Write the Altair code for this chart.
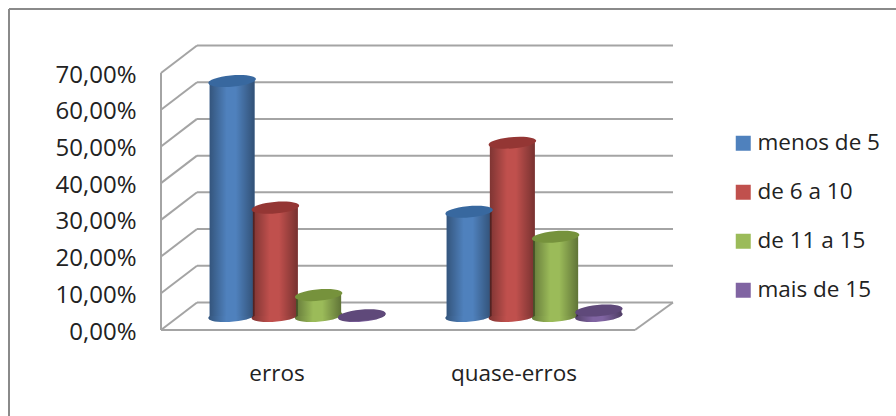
import altair as alt
import pandas as pd

groups = ["erros", "quase-erros"]
series = ["menos de 5", "de 6 a 10", "de 11 a 15", "mais de 15"]
erros = [64.0, 29.5, 5.7, 0.2]
quase_erros = [28.4, 47.2, 21.6, 1.5]
ticks = [0, 10, 20, 30, 40, 50, 60, 70]
body_colors = ["#4f81bd", "#c0504d", "#9bbb59", "#8064a2"]
top_colors = ["#38689f", "#943634", "#76923c", "#5f497a"]

WALL_DEPTH = 7.5  # depth of the box, in axis units
rows = []
for g, vals in zip(groups, [erros, quase_erros]):
    for s, v in zip(series, vals):
        rows.append({"group": g, "series": s, "value": v, "zero": 0.0})
bars = pd.DataFrame(rows)
grid = pd.DataFrame({"tick": ticks, "back": [t + WALL_DEPTH for t in ticks]})

# The cylinders stand mid-way into the box, so the band scale sits right of the front edge
x_scale = alt.Scale(domain=groups, range=[178.5, 652.5], paddingInner=0.27, paddingOuter=0.135)
y_scale = alt.Scale(domain=[0, 70], range=[330, 73], nice=False, zero=False)
FONT = "Open Sans"
TEXT = "#222222"
LINE = "#a4a4a4"

x_axis = alt.Axis(labelAngle=0, labelFont=FONT, labelFontSize=22.5, labelColor=TEXT,
                  ticks=False, domain=False, labelPadding=0, offset=-54, labelOffset=-20)
y_axis = alt.Axis(values=ticks, labelFont=FONT, labelFontSize=24, labelColor=TEXT,
                  labelExpr="replace(format(datum.value,'.2f'),'.',',')+'%'",
                  ticks=False, domain=False, grid=False, labelPadding=0, offset=-136,
                  labelOffset=2)
x_bar = alt.X("group:N", scale=x_scale, sort=groups, title=None, axis=x_axis)
y_enc = alt.Y("tick:Q", scale=y_scale, title=None, axis=y_axis)
xoff = alt.XOffset("series:N", sort=series, scale=alt.Scale(domain=series, paddingInner=0, paddingOuter=0))
y_val = alt.Y("value:Q", scale=y_scale, stack=None)
color_scale = alt.Scale(domain=series, range=body_colors)
legend = alt.Legend(orient="none", legendX=732, legendY=132, title=None,
                    symbolType="square", symbolSize=225, symbolStrokeWidth=0,
                    labelFont=FONT, labelFontSize=22.5, labelColor=TEXT,
                    labelOffset=3, rowPadding=26)
color_enc = alt.Color("series:N", sort=series, scale=color_scale, legend=legend)

# Wall and floor of the box
back_lines = alt.Chart(grid).mark_rule(color=LINE, strokeWidth=2, yOffset=-27.5).encode(
    y=y_enc, x=alt.value(197), x2=alt.value(673))
side_lines = alt.Chart(grid).mark_rule(color=LINE, strokeWidth=2).encode(
    y=alt.Y("tick:Q", scale=y_scale), y2="back:Q", x=alt.value(161), x2=alt.value(197))
front_wall = alt.Chart(grid.iloc[[0]]).mark_rule(color=LINE, strokeWidth=2).encode(
    y=alt.value(73), y2=alt.value(330), x=alt.value(161))
front_floor = alt.Chart(grid.iloc[[0]]).mark_rule(color=LINE, strokeWidth=2).encode(
    y=alt.Y("tick:Q", scale=y_scale), x=alt.value(161), x2=alt.value(635))
right_floor = alt.Chart(grid.iloc[[0]]).mark_rule(color=LINE, strokeWidth=2).encode(
    y=alt.Y("tick:Q", scale=y_scale), y2="back:Q", x=alt.value(635), x2=alt.value(673))

# Frame around the chart, running off the page at the right and bottom
frame_line = dict(color="#8a8a8a", strokeWidth=2)
frame_top = alt.Chart(grid.iloc[[0]]).mark_rule(**frame_line).encode(
    y=alt.value(9), x=alt.value(9), x2=alt.value(896))
frame_left = alt.Chart(grid.iloc[[0]]).mark_rule(**frame_line).encode(
    x=alt.value(9), y=alt.value(9), y2=alt.value(416))

# Cylinders: flat body colour, a shading overlay, and elliptical ends
ELLIPSE = "M-1,0A1,0.24,-5,1,1,1,0A1,0.24,-5,1,1,-1,0Z"
ELLIPSE_SIZE = 45 ** 2
SHIFT = dict(yOffset=-14)
shade = alt.LinearGradient(
    gradient="linear", x1=0, x2=1, y1=0, y2=0,
    stops=[
        alt.GradientStop(offset=0, color="rgba(0,0,0,0.34)"),
        alt.GradientStop(offset=0.38, color="rgba(0,0,0,0)"),
        alt.GradientStop(offset=0.58, color="rgba(0,0,0,0)"),
        alt.GradientStop(offset=1, color="rgba(0,0,0,0.38)"),
    ],
)
base = alt.Chart(bars)
bottom = base.mark_point(shape=ELLIPSE, size=ELLIPSE_SIZE, filled=True, opacity=1, **SHIFT).encode(
    x=x_bar, xOffset=xoff, y=alt.Y("zero:Q", scale=y_scale), color=color_enc)
bottom_shade = base.mark_point(shape=ELLIPSE, size=ELLIPSE_SIZE, filled=True, opacity=1, fill=shade, **SHIFT).encode(
    x=x_bar, xOffset=xoff, y=alt.Y("zero:Q", scale=y_scale))
body_kw = dict(size=45, yOffset=-14, y2Offset=-14)
body = base.mark_bar(**body_kw).encode(
    x=x_bar, xOffset=xoff, y=y_val, y2="zero:Q", color=color_enc)
body_shade = base.mark_bar(fill=shade, **body_kw).encode(
    x=x_bar, xOffset=xoff, y=y_val, y2="zero:Q")
top = base.mark_point(shape=ELLIPSE, size=ELLIPSE_SIZE, filled=True, opacity=1, **SHIFT).encode(
    x=x_bar, xOffset=xoff, y=y_val,
    fill=alt.Fill("series:N", sort=series, legend=None,
                  scale=alt.Scale(domain=series, range=top_colors)))

chart = alt.layer(
    back_lines, side_lines, front_wall, front_floor, right_floor,
    frame_top, frame_left,
    bottom, bottom_shade, body, body_shade, top,
).properties(
    width=896, height=416, padding=0, autosize=alt.AutoSizeParams(type="none"),
    background="white",
).configure_view(stroke=None)

chart.save("out.html", embed_options={"renderer": "svg", "actions": False})
